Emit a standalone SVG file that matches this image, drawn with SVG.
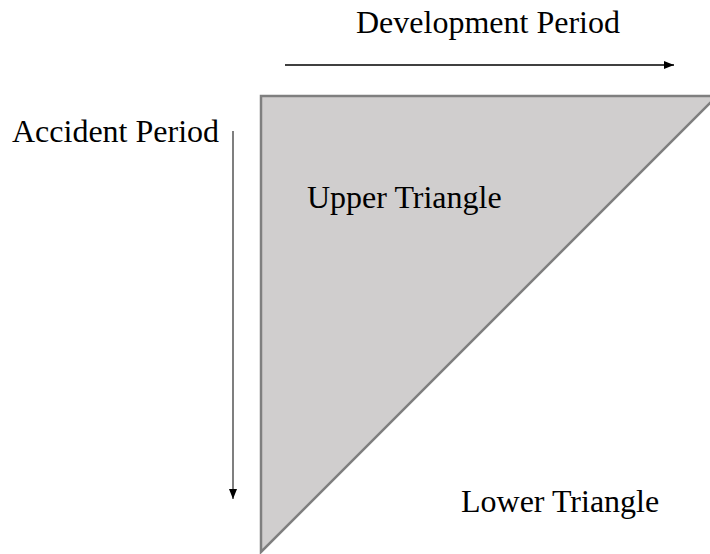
<svg xmlns="http://www.w3.org/2000/svg" width="710" height="554" viewBox="0 0 710 554">
<style>
.t{font-family:"Liberation Serif","Times New Roman",serif;font-size:32px;fill:#000}
</style>
<defs>
<marker id="ah" markerWidth="10" markerHeight="8" refX="10" refY="4" orient="auto" markerUnits="userSpaceOnUse">
<path d="M0,0 L10,4 L0,8 Z" fill="#000"/>
</marker>
</defs>
<rect width="710" height="554" fill="#fff"/>
<g id="triangle">
<polygon points="261,96 717,96 261,552" fill="#d0cece" stroke="#7f7f7f" stroke-width="2.5"/>
</g>
<g id="connectors">
<line x1="285" y1="65" x2="674" y2="65" stroke="#000" stroke-width="1.5" marker-end="url(#ah)"/>
<line x1="233" y1="131" x2="233" y2="499" stroke="#555" stroke-width="1.5" marker-end="url(#ah)"/>
</g>
<g id="labels">
<text class="t" x="356" y="33">Development Period</text>
<text class="t" x="12" y="142">Accident Period</text>
<text class="t" x="307" y="208">Upper Triangle</text>
<text class="t" x="461" y="512">Lower Triangle</text>
</g>
</svg>
